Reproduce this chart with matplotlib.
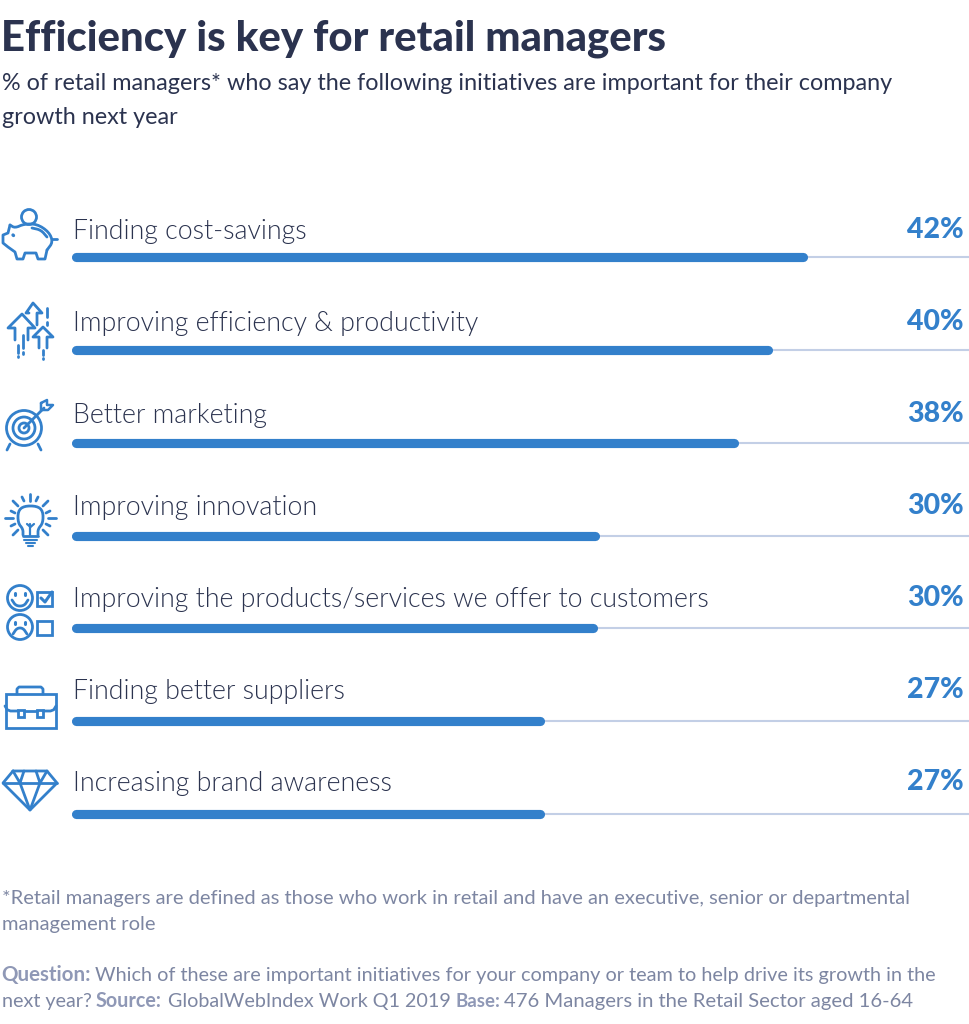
import numpy as np
import matplotlib
matplotlib.use('Agg')
import matplotlib.pyplot as plt
from matplotlib import font_manager
from matplotlib.patches import Circle, Rectangle

plt.rcParams['font.family'] = ['Lato', 'DejaVu Sans']

categories = [
    'Finding cost-savings',
    'Improving efficiency & productivity',
    'Better marketing',
    'Improving innovation',
    'Improving the products/services we offer to customers',
    'Finding better suppliers',
    'Increasing brand awareness',
]
values = [42, 40, 38, 30, 29.85, 26.8, 26.8]
value_labels = ['42%', '40%', '38%', '30%', '30%', '27%', '27%']

title = 'Efficiency is key for retail managers'
subtitle = ['% of retail managers* who say the following initiatives are important for their company',
            'growth next year']
note = ['*Retail managers are defined as those who work in retail and have an executive, senior or departmental',
        'management role']

DARK = '#2b334f'
BLUE = '#3380cb'
TRACK = '#c3cfe6'
GREY = '#7d86a2'
GREY_BOLD = '#8f98b6'

# weight lookup lands on the hairline cut, so pick the light file directly
light_files = [f.fname for f in font_manager.fontManager.ttflist
               if f.name == 'Lato' and f.fname.endswith('Lato-Light.ttf')]
if light_files:
    label_font = font_manager.FontProperties(fname=light_files[0], size=19.3)
else:
    label_font = font_manager.FontProperties(family='Lato', size=18.4)

W, H = 969, 1024
fig = plt.figure(figsize=(W / 100, H / 100), dpi=100, facecolor='white')

# overlay in pixel coords for header, footer and icons
bg = fig.add_axes([0, 0, 1, 1])
bg.set_xlim(0, W)
bg.set_ylim(H, 0)
bg.axis('off')

# bar area
left, top, bottom = 76.0, 210.6, 860.4
ax = fig.add_axes([left / W, 1 - bottom / H, (W - left) / W, (bottom - top) / H])
ax.set_xlim(0, (W - left) / 17.31)
ax.set_ylim(6.5, -0.5)
ax.axis('off')
ax.patch.set_alpha(0)

y = np.arange(len(categories))
ax.hlines(y, 0, ax.get_xlim()[1], color=TRACK, lw=1.5, zorder=1, clip_on=False)
ax.hlines(y, 0, values, color=BLUE, lw=6.6, capstyle='round', zorder=2, clip_on=False)

# labels sit on a slightly tighter grid than the bars
for i, (cat, lab) in enumerate(zip(categories, value_labels)):
    bg.text(73, 238.5 + 92 * i, cat, fontproperties=label_font, color=DARK, va='baseline', ha='left')
    bg.text(963.5, 238 + 92 * i, lab, fontsize=20.5, fontweight='black', color=BLUE, va='baseline', ha='right')

# header
bg.text(1, 50, title, fontsize=30.2, fontweight='black', color=DARK, va='baseline')
bg.text(2, 90, subtitle[0], fontsize=16.8, color=DARK, va='baseline')
bg.text(2, 124, subtitle[1], fontsize=16.8, color=DARK, va='baseline')

# footer
bg.text(2, 904, note[0], fontsize=14.52, color=GREY, va='baseline')
bg.text(2, 930, note[1], fontsize=14.52, color=GREY, va='baseline')
bg.text(1, 981, 'Question:', fontsize=14.8, fontweight='bold', color=GREY_BOLD, va='baseline')
bg.text(95, 981, 'Which of these are important initiatives for your company or team to help drive its growth in the',
        fontsize=14.32, color=GREY, va='baseline')
bg.text(2, 1007, 'next year?', fontsize=14.24, color=GREY, va='baseline')
bg.text(96, 1007, 'Source:', fontsize=14.2, fontweight='bold', color=GREY_BOLD, va='baseline')
bg.text(168, 1007, 'GlobalWebIndex Work Q1 2019', fontsize=14.2, color=GREY, va='baseline')
bg.text(456, 1007, 'Base:', fontsize=13.4, fontweight='bold', color=GREY_BOLD, va='baseline')
bg.text(504, 1007, '476 Managers in the Retail Sector aged 16-64', fontsize=14.55, color=GREY, va='baseline')


# icons
def smooth(pts, n=2):
    pts = np.asarray(pts, float)
    for _ in range(n):
        a = pts[:-1] * 0.75 + pts[1:] * 0.25
        b = pts[:-1] * 0.25 + pts[1:] * 0.75
        pts = np.vstack([pts[0], np.column_stack([a, b]).reshape(-1, 2), pts[-1]])
    return pts


def line(pts, lw=2.0):
    pts = np.asarray(pts, float)
    bg.plot(pts[:, 0], pts[:, 1], color=BLUE, lw=lw, solid_capstyle='round', solid_joinstyle='round')


def circle(x, y, r, lw=2.0):
    bg.add_patch(Circle((x, y), r, fill=False, ec=BLUE, lw=lw))


def rect(x0, y0, x1, y1, lw=2.0):
    bg.add_patch(Rectangle((x0, y0), x1 - x0, y1 - y0, fill=False, ec=BLUE, lw=lw))


# piggy bank
circle(29, 217, 7.5)
line(smooth([(10, 225), (15, 228), (24, 224), (37, 224), (49, 232), (53, 242), (47, 250)]))
line([(47, 250), (45, 259), (38, 259), (36, 253), (25, 253), (23, 259), (17, 259), (15, 252), (8, 247),
      (3, 243), (3, 235), (8, 233), (10, 225)])
line(smooth([(32, 228), (41, 230), (47, 237)]))
line([(52, 239), (57, 239)])
line([(13, 235), (13.5, 235.5)], lw=2.4)

# arrows
line([(15, 340), (15, 328), (8, 328), (22, 314), (35, 328), (28, 328), (28, 340)])
line([(29, 313), (26, 313), (33, 303), (42, 313), (37, 313), (37, 325)])
line([(39, 348), (39, 337), (33, 337), (43, 327), (53, 337), (47, 337), (47, 348)])
for dash in [[(47, 308), (47, 317)], [(47, 322), (47, 325)], [(18, 345), (18, 353)], [(18, 356), (18, 357)],
             [(23, 335), (23, 348)], [(23, 352), (23, 354)], [(43, 350), (43, 355)], [(43, 358), (43, 359)]]:
    line(dash)

# target
circle(24, 428, 17.5)
circle(24, 428, 11)
circle(24, 428, 5)
line([(24, 428), (44, 408)])
line([(41, 403), (41, 410), (48, 410), (53, 405), (47, 405), (47, 400), (41, 403)], lw=1.8)
line([(10, 444), (7, 450)])
line([(38, 444), (41, 450)])

# bulb
line(smooth([(23, 535), (23, 529), (18, 523), (18, 511), (24, 506), (37, 506), (43, 511), (43, 523), (38, 529), (38, 535)]))
line([(23, 536), (38, 536)])
line([(24, 540), (37, 540)], lw=1.5)
line([(26, 543), (35, 543)], lw=1.5)
line([(28, 546), (33, 546)], lw=1.5)
line([(30.5, 535), (30.5, 524)], lw=1.6)
line([(27, 524), (30.5, 527), (34, 524)], lw=1.6)
for p, q in [((30, 494), (30, 501)), ((5, 518), (13, 518)), ((48, 518), (56, 518)), ((13, 501), (18, 506)),
             ((48, 501), (43, 506)), ((13, 535), (18, 530)), ((48, 535), (43, 530)), ((22, 497), (24, 501)),
             ((38, 497), (36, 501)), ((11, 511), (15, 513)), ((50, 511), (46, 513)), ((11, 526), (15, 524)),
             ((50, 526), (46, 524))]:
    line([p, q])

# smiley and sad faces with checkboxes
circle(20, 598, 12.5)
circle(20, 627, 12.5)
line(smooth([(12, 600), (16, 606), (24, 606), (28, 600)]))
line(smooth([(13, 634), (17, 628), (23, 628), (27, 634)]))
for cx, cy in [(15, 593), (25, 593), (15, 622), (25, 622)]:
    line([(cx, cy), (cx, cy + 2)], lw=2.2)
rect(37, 592, 52, 606)
rect(37, 621, 52, 635)
line([(41, 598), (45, 602), (52, 592)], lw=2.2)

# briefcase
rect(6, 694, 56, 728)
line([(17, 694), (17, 689), (19, 687), (41, 687), (43, 689), (43, 694)])
line(smooth([(5, 706), (8, 711), (18, 711)], 1))
line([(24, 711), (37, 711)])
line(smooth([(43, 711), (53, 711), (56, 706)], 1))
rect(18, 710, 24, 717)
rect(37, 710, 43, 717)

# diamond
line([(13, 771), (47, 771), (57, 783), (30, 810), (3, 783), (13, 771)])
line([(3, 783), (57, 783)])
line([(20, 783), (30, 810), (40, 783)])
line([(13, 771), (20, 783), (24, 771)])
line([(47, 771), (40, 783), (36, 771)])

fig.savefig('out.png', dpi=100, facecolor='white')
plt.close('all')
